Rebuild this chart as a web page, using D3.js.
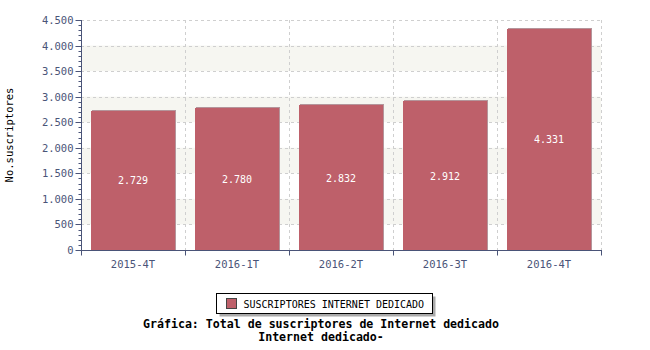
<!DOCTYPE html>
<html>
<head>
<meta charset="utf-8">
<script src="https://cdn.jsdelivr.net/npm/d3@7"></script>
<style>
  body { margin: 0; background: #fff; }
  text { font-family: "DejaVu Sans Mono", monospace; }
</style>
</head>
<body>
<div id="chart"></div>
<script>
// Data
const categories = ["2015-4T", "2016-1T", "2016-2T", "2016-3T", "2016-4T"];
const values = [2729, 2780, 2832, 2912, 4331];
const yTicks = [0, 500, 1000, 1500, 2000, 2500, 3000, 3500, 4000, 4500];
const seriesName = "SUSCRIPTORES INTERNET DEDICADO";
const titleLines = ["Gráfica: Total de suscriptores de Internet dedicado", "Internet dedicado-"];

const width = 650, height = 350;
const margin = {left: 81, right: 49, top: 20, bottom: 100};
const axisColor = "#4a5478";
const barColor = "#be606a";

const svg = d3.select("#chart").append("svg")
    .attr("width", width)
    .attr("height", height);

const x = d3.scaleBand()
    .domain(categories)
    .range([margin.left, width - margin.right])
    .paddingInner(0.19)
    .paddingOuter(0.095);

const y = d3.scaleLinear()
    .domain([0, 4500])
    .range([height - margin.bottom, margin.top]);

// alternating background bands
const bands = d3.range(500, 4500, 1000);
svg.append("g").selectAll("rect")
    .data(bands)
    .enter().append("rect")
    .attr("x", margin.left)
    .attr("width", width - margin.right - margin.left)
    .attr("y", d => y(d + 500))
    .attr("height", d => y(d) - y(d + 500))
    .attr("fill", "#f6f6f1");

// horizontal grid lines
svg.append("g").selectAll("line")
    .data(yTicks.filter(d => d > 0))
    .enter().append("line")
    .attr("x1", margin.left)
    .attr("x2", width - margin.right)
    .attr("y1", d => Math.round(y(d)) + 0.5)
    .attr("y2", d => Math.round(y(d)) + 0.5)
    .attr("stroke", "#cfcfcf")
    .attr("stroke-dasharray", "3,3");

// vertical grid lines at band boundaries
const step = x.step();
const boundaries = d3.range(categories.length + 1).map(i => margin.left + i * step);
svg.append("g").selectAll("line")
    .data(boundaries.slice(1))
    .enter().append("line")
    .attr("x1", d => Math.round(d) + 0.5)
    .attr("x2", d => Math.round(d) + 0.5)
    .attr("y1", y(4500))
    .attr("y2", y(0))
    .attr("stroke", "#cfcfcf")
    .attr("stroke-dasharray", "3,3");

// bars with a light edge
const bars = svg.append("g").selectAll("g")
    .data(values)
    .enter().append("g");

bars.append("rect")
    .attr("x", (d, i) => Math.round(x(categories[i])) + 1)
    .attr("y", d => Math.round(y(d)) - 1)
    .attr("width", Math.round(x.bandwidth()))
    .attr("height", d => y(0) - Math.round(y(d)) + 1)
    .attr("fill", "#b4959b");

bars.append("rect")
    .attr("x", (d, i) => Math.round(x(categories[i])))
    .attr("y", d => Math.round(y(d)))
    .attr("width", Math.round(x.bandwidth()))
    .attr("height", d => y(0) - Math.round(y(d)))
    .attr("fill", barColor);

bars.append("text")
    .attr("x", (d, i) => x(categories[i]) + x.bandwidth() / 2)
    .attr("y", d => (y(d) + y(0)) / 2 + 4)
    .attr("text-anchor", "middle")
    .attr("font-size", 10)
    .attr("fill", "#fff")
    .text(d => d3.format(",")(d).replace(/,/g, "."));

// y axis
const yAxis = svg.append("g").attr("transform", `translate(${margin.left + 0.5},0)`);
yAxis.append("line")
    .attr("y1", y(4500)).attr("y2", y(0) + 1)
    .attr("stroke", axisColor);
yAxis.selectAll(".minor")
    .data(d3.range(0, 4501, 100))
    .enter().append("line")
    .attr("x1", d => d % 500 === 0 ? -6 : -3)
    .attr("x2", 0)
    .attr("y1", d => Math.round(y(d)) + 0.5)
    .attr("y2", d => Math.round(y(d)) + 0.5)
    .attr("stroke", axisColor);
yAxis.selectAll("text")
    .data(yTicks)
    .enter().append("text")
    .attr("x", -8)
    .attr("y", d => y(d) + 4)
    .attr("text-anchor", "end")
    .attr("font-size", 10.5)
    .attr("fill", axisColor)
    .text(d => d3.format(",")(d).replace(/,/g, "."));

// x axis
const xAxis = svg.append("g").attr("transform", `translate(0,${y(0) + 0.5})`);
xAxis.append("line")
    .attr("x1", margin.left).attr("x2", width - margin.right + 1)
    .attr("stroke", axisColor);
xAxis.selectAll(".tick")
    .data(boundaries)
    .enter().append("line")
    .attr("x1", d => Math.round(d) + 0.5)
    .attr("x2", d => Math.round(d) + 0.5)
    .attr("y1", 0).attr("y2", 5)
    .attr("stroke", axisColor);
xAxis.selectAll("text")
    .data(categories)
    .enter().append("text")
    .attr("x", d => x(d) + x.bandwidth() / 2)
    .attr("y", 17)
    .attr("text-anchor", "middle")
    .attr("font-size", 10.5)
    .attr("fill", axisColor)
    .text(d => d);

// y axis title
svg.append("text")
    .attr("transform", `translate(13,${(y(0) + y(4500)) / 2}) rotate(-90)`)
    .attr("text-anchor", "middle")
    .attr("font-size", 10.5)
    .attr("fill", "#000")
    .text("No.suscriptores");

// legend
const legend = svg.append("g").attr("transform", "translate(216.5,293.5)");
legend.append("rect")
    .attr("x", 3).attr("y", 3)
    .attr("width", 216).attr("height", 20)
    .attr("fill", "#aaa");
legend.append("rect")
    .attr("width", 216).attr("height", 20)
    .attr("fill", "#fff")
    .attr("stroke", "#000");
legend.append("rect")
    .attr("x", 10).attr("y", 5)
    .attr("width", 10).attr("height", 10)
    .attr("fill", barColor)
    .attr("stroke", "#444");
legend.append("text")
    .attr("x", 27).attr("y", 14)
    .attr("font-size", 10)
    .attr("fill", "#000")
    .text(seriesName);

// title
svg.append("g").selectAll("text")
    .data(titleLines)
    .enter().append("text")
    .attr("x", 321)
    .attr("y", (d, i) => 328 + i * 13)
    .attr("text-anchor", "middle")
    .attr("font-size", 11.6)
    .attr("font-weight", "bold")
    .attr("fill", "#000")
    .text(d => d);
</script>
</body>
</html>
